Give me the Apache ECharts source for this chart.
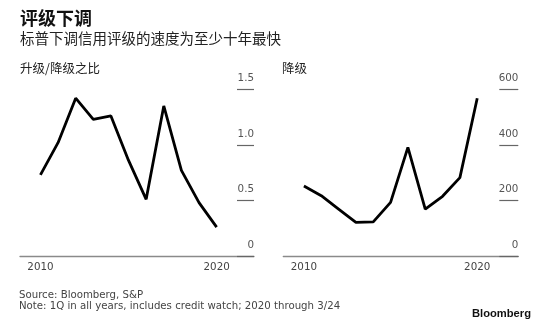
<!DOCTYPE html>
<html><head><meta charset="utf-8">
<script src="https://cdn.jsdelivr.net/npm/echarts@6/dist/echarts.min.js"></script>
<style>html,body{margin:0;padding:0;background:#fff}#c{width:550px;height:328px}</style>
</head><body><div id="c"></div>
<script>
var years = [2010, 2011, 2012, 2013, 2014, 2015, 2016, 2017, 2018, 2019, 2020];
var ratioValues = [0.73, 1.02, 1.42, 1.23, 1.26, 0.86, 0.51, 1.35, 0.77, 0.48, 0.26];
var downgradeValues = [252, 217, 169, 121, 123, 193, 391, 169, 215, 282, 568];
var xTickLabels = [2010, 2020];
var ratioTicks = ['0', '0.5', '1.0', '1.5'];
var downgradeTicks = ['0', '200', '400', '600'];

var latin = '"DejaVu Sans", Verdana, sans-serif';
var bold = '"Liberation Sans", Arial, sans-serif';
var cjk = '"Noto Sans CJK SC", sans-serif';

function pairs(vals) { return years.map(function (y, i) { return [y, vals[i]]; }); }

var chart = echarts.init(document.getElementById('c'), null, {renderer: 'canvas'});
function xAxis(gi, min, max) {
  return {
    type: 'value', gridIndex: gi, min: min, max: max,
    axisLine: {show: true, lineStyle: {color: '#8a8a8a', width: 1.3}},
    axisTick: {show: false},
    splitLine: {show: false},
    axisLabel: {customValues: xTickLabels, color: '#444', fontSize: 10.3, fontFamily: latin, margin: 6,
      formatter: function (v) { return String(v); }}
  };
}
function yAxis(gi, max, interval, labels, tickLen) {
  return {
    type: 'value', gridIndex: gi, position: 'right', min: 0, max: max, interval: interval,
    axisLine: {show: false},
    axisTick: {show: true, inside: true, length: tickLen, lineStyle: {color: '#666', width: 1.2}},
    splitLine: {show: false},
    axisLabel: {inside: true, margin: 0, align: 'right', verticalAlign: 'bottom', padding: [0, 0, 6, 0],
      color: '#555', fontSize: 10.3, fontFamily: latin,
      formatter: function (v) { return labels[Math.round(v / interval)]; }}
  };
}
function t(text, left, top, font, size, weight, color, right) {
  var o = {text: text, top: top, padding: 0, textStyle: {fontFamily: font, fontSize: size, fontWeight: weight, color: color}};
  if (right !== undefined) o.right = right; else o.left = left;
  return o;
}
chart.setOption({
  animation: false,
  title: [
    t('评级下调', 20, 9.5, cjk, 18, 'bold', '#111'),
    t('标普下调信用评级的速度为至少十年最快', 20, 31, cjk, 14.5, 'normal', '#222'),
    t('升级/降级之比', 20, 61.5, cjk, 12.5, 'normal', '#222'),
    t('降级', 282, 61.5, cjk, 12.5, 'normal', '#222'),
    t('Source: Bloomberg, S&P', 19, 290, latin, 10.2, 'normal', '#444'),
    t('Note: 1Q in all years, includes credit watch; 2020 through 3/24', 19, 301, latin, 10.2, 'normal', '#444'),
    t('Bloomberg', 0, 308, bold, 11.2, 'bold', '#111', 19)
  ],
  grid: [
    {left: 20, right: 296, top: 89.3, bottom: 72},
    {left: 283.3, right: 31.7, top: 89.3, bottom: 72}
  ],
  xAxis: [xAxis(0, 2008.84, 2022.12), xAxis(1, 2008.81, 2022.37)],
  yAxis: [yAxis(0, 1.5, 0.5, ratioTicks, 17), yAxis(1, 600, 200, downgradeTicks, 19)],
  series: [
    {type: 'line', xAxisIndex: 0, yAxisIndex: 0, data: pairs(ratioValues), showSymbol: false,
      lineStyle: {color: '#000', width: 2.8}, silent: true},
    {type: 'line', xAxisIndex: 1, yAxisIndex: 1, data: pairs(downgradeValues), showSymbol: false,
      lineStyle: {color: '#000', width: 2.8}, silent: true}
  ]
});
</script></body></html>
